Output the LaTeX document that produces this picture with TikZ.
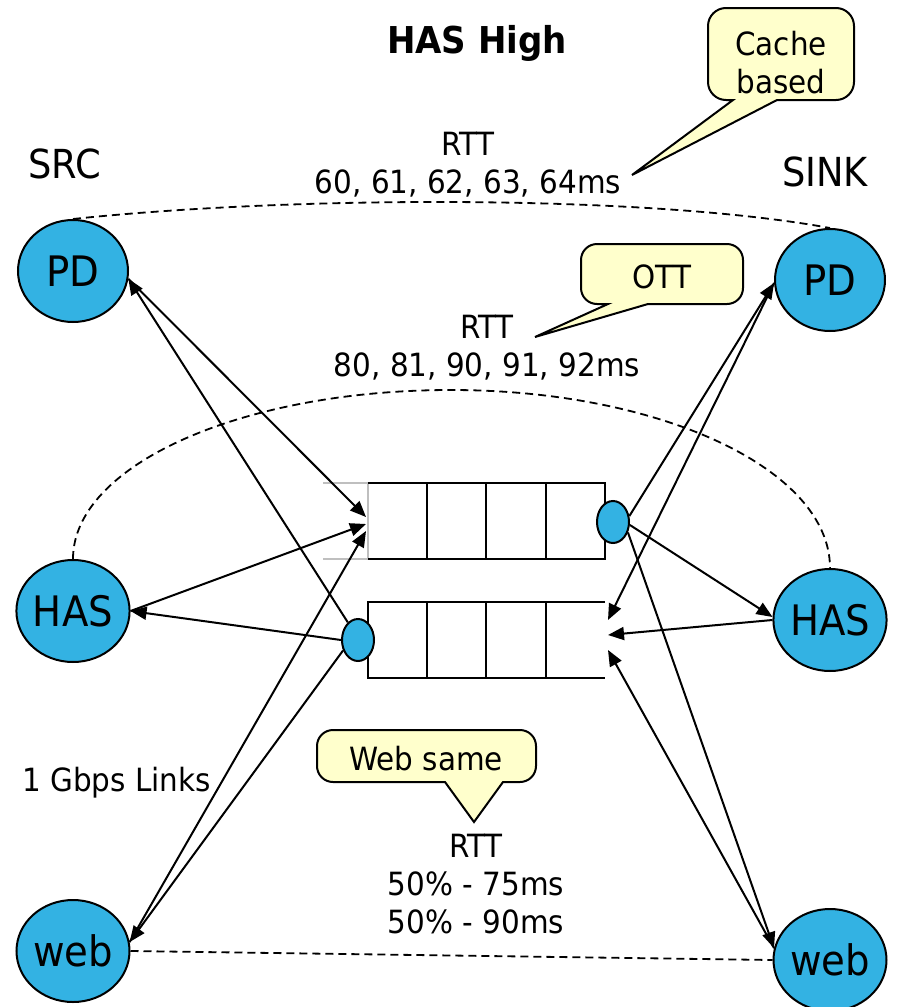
\documentclass[tikz,border=0pt]{standalone}
\usepackage{fontspec}
\setmainfont{DejaVu Sans}[FakeStretch=0.92]
\usetikzlibrary{arrows.meta,shapes.geometric}
\definecolor{hostblue}{RGB}{51,178,227}
\definecolor{noteyellow}{RGB}{255,255,204}

\begin{document}
\begin{tikzpicture}[x=1pt,y=-1pt,
  host/.style={ellipse, draw, line width=2pt, fill=hostblue, minimum width=110pt, minimum height=102pt, inner sep=0pt, font=\fontsize{42}{50}\selectfont},
  server/.style={ellipse, draw, line width=2pt, fill=hostblue, minimum width=32pt, minimum height=42pt, inner sep=0pt},
  link/.style={line width=2pt, -{Triangle[length=16pt,width=13pt]}},
  rtt/.style={line width=1.8pt, dash pattern=on 8pt off 5pt},
  note/.style={draw, line width=2pt, fill=noteyellow},
  lbl/.style={font=\fontsize{32}{38}\selectfont, align=center, inner sep=0pt}]
\useasboundingbox (0,0) rectangle (899,1007);

% upper queue (src to sink)
\draw[gray!50, line width=1.4pt] (323,483) -- (368,483) -- (368,559) -- (323,559);
\draw[line width=2pt] (368,483) -- (605,483) -- (605,559) -- (368,559);
\foreach \x in {427,486,546}
  \draw[line width=2pt] (\x,483) -- (\x,559);

% lower queue (sink to src)
\draw[line width=2pt] (605,602) -- (368,602) -- (368,678) -- (605,678);
\foreach \x in {427,486,546}
  \draw[line width=2pt] (\x,602) -- (\x,678);

% hosts
\node[host] (srcPD) at (73,271) {PD};
\node[host] (srcHAS) at (73,611) {HAS};
\node[host] (srcWeb) at (73,951) {web};
\node[host] (sinkPD) at (830,280) {PD};
\node[host] (sinkHAS) at (830,620) {HAS};
\node[host] (sinkWeb) at (830,960) {web};

% queue servers
\node[server] (qUp) at (613,522) {};
\node[server] (qLow) at (358,640) {};

\coordinate (upIn1) at (366,517);
\coordinate (upIn2) at (366,524);
\coordinate (upIn3) at (366,531);
\coordinate (lowIn1) at (608,620);
\coordinate (lowIn2) at (608,635);
\coordinate (lowIn3) at (608,650);

% src side links
\draw[link] (srcPD.-8) -- (upIn1);
\draw[link] (qLow.120) -- (srcPD.-8);
\draw[link] (srcHAS.east) -- (upIn2);
\draw[link] (qLow.west) -- (srcHAS.east);
\draw[link] (srcWeb.9) -- (upIn3);
\draw[link] (qLow.215) -- (srcWeb.9);

% sink side links
\draw[link] (qUp.20) -- (sinkPD.183);
\draw[link] (sinkPD.183) -- (lowIn1);
\draw[link] (qUp.-10) -- (sinkHAS.177);
\draw[link] (sinkHAS.west) -- (lowIn2);
\draw[link] (qUp.-35) -- (sinkWeb.168);
\draw[link] (sinkWeb.168) -- (lowIn3);

% rtt paths
\draw[rtt] (srcPD.north) .. controls (300,195) and (650,195) .. (sinkPD.north);
\draw[rtt] (srcHAS.north) .. controls +(0,-94) and (242,390) .. (451,390)
  .. controls (660,390) and +(0,-99) .. (sinkHAS.north);
\draw[rtt] (srcWeb.east) -- (sinkWeb.west);

% labels
\node[font=\bfseries\fontsize{37}{44}\selectfont, anchor=base] (title) at (477,53) {HAS High};
\node[font=\fontsize{40}{48}\selectfont, anchor=base] (srcLbl) at (65,178) {SRC};
\node[font=\fontsize{40}{48}\selectfont, anchor=base] (sinkLbl) at (825,186) {SINK};
\node[lbl, anchor=north] (rttCache) at (468,132) {RTT\\60, 61, 62, 63, 64ms};
\node[lbl, anchor=north] (rttOtt) at (487,315) {RTT\\80, 81, 90, 91, 92ms};
\node[lbl, anchor=north] (rttWeb) at (476,834) {RTT\\50\% - 75ms\\50\% - 90ms};
\node[lbl, anchor=base west] (linkLbl) at (22,791) {1 Gbps Links};

% callouts
\draw[note] (632,175) -- (733,100) [rounded corners=18pt] -- (708,100) -- (708,8) -- (854,8)
  -- (854,100) [sharp corners] -- (777,100) -- cycle;
\node[lbl, anchor=north] (cacheNote) at (781,31) {Cache\\based};

\draw[note] (535,337) -- (608,304) [rounded corners=16pt] -- (581,304) -- (581,244) -- (743,244)
  -- (743,304) [sharp corners] -- (648,304) -- cycle;
\node[lbl, anchor=base] (ottNote) at (662,288) {OTT};

\draw[note] (474,822) -- (445,782) [rounded corners=16pt] -- (317,782) -- (317,730) -- (536,730)
  -- (536,782) [sharp corners] -- (503,782) -- cycle;
\node[lbl, anchor=base] (webNote) at (426,770) {Web same};
\end{tikzpicture}
\end{document}
